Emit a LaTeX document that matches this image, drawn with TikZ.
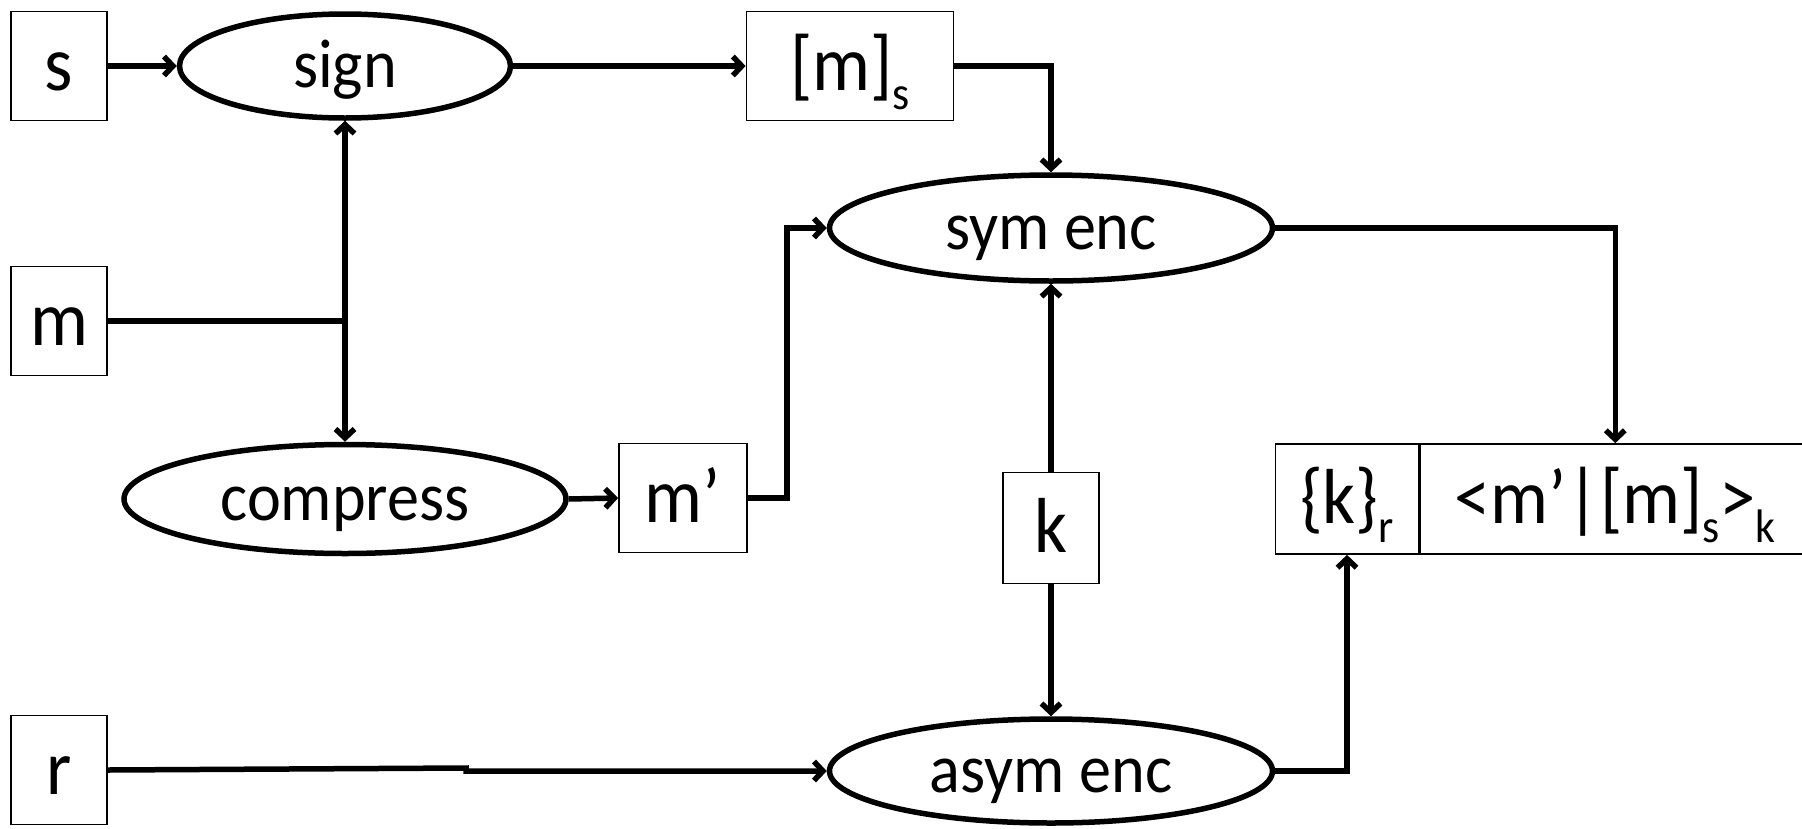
\documentclass[tikz,border=0pt]{standalone}
\usepackage{fontspec}
\setmainfont{Carlito}[FakeStretch=0.93]
\usetikzlibrary{arrows.meta,shapes.geometric}
\newcommand\lowsub[1]{\raisebox{-19pt}{\fontsize{47}{47}\selectfont #1}}
\begin{document}
\begin{tikzpicture}[x=1pt,y=-1pt,
  ell/.style={ellipse,draw,line width=5.5pt,inner sep=0pt,font=\fontsize{69}{69}\selectfont,text height=43pt,text depth=0pt},
  bx/.style={rectangle,draw,line width=1.8pt,inner sep=0pt,minimum height=109pt,font=\fontsize{78}{78}\selectfont,text height=48pt,text depth=0pt},
  conn/.style={line width=5.5pt,-{Straight Barb[length=9pt,width=19pt]}},
  plainline/.style={line width=5.5pt}]
\useasboundingbox (0,0) rectangle (1802,828);
% nodes
\node[bx,minimum width=96pt] (s) at (59,66) {s};
\node[ell,minimum width=331pt,minimum height=104pt] (sign) at (345,66) {sign};
\node[bx,minimum width=96pt] (m) at (59,321) {m};
\node[ell,minimum width=442pt,minimum height=109pt] (compress) at (345,499) {compress};
\node[bx,minimum width=128pt] (mp) at (683,498) {m’};
\node[bx,minimum width=207pt] (ms) at (850,66) {[m]\lowsub{s}};
\node[ell,minimum width=443pt,minimum height=106pt] (sym) at (1051,228) {sym enc};
\node[bx,minimum width=96pt,minimum height=111pt] (k) at (1051,528) {k};
\node[ell,minimum width=443pt,minimum height=104pt] (asym) at (1051,771) {asym enc};
\node[bx,minimum width=96pt] (r) at (59,770) {r};
\node[bx,minimum width=143pt,minimum height=110pt] (kr) at (1347,499) {\{k\}\lowsub{r}};
\node[bx,minimum width=390pt,minimum height=110pt,anchor=west] (ct) at (kr.east) {<m’|[m]\lowsub{s}>\lowsub{k}};
% connectors
\coordinate (j) at (345,321);
\draw[conn] (s.east) -- (sign.west);
\draw[plainline] (m.east) -- (j);
\draw[conn] (j) -- (sign.south);
\draw[conn] (j) -- (compress.north);
\draw[conn] (sign.east) -- (ms.west);
\draw[conn] (ms.east) -| (sym.north);
\draw[conn] (compress.east) -- (mp.west);
\draw[conn] (mp.east) -- (787,498) |- (sym.west);
\draw[conn] (k.north) -- (sym.south);
\draw[conn] (k.south) -- (asym.north);
\draw[conn] (r.east) -- (466,768) -- (466,771) -- (asym.west);
\draw[conn] (asym.east) -| (kr.south);
\draw[conn] (sym.east) -| (ct.north);
\end{tikzpicture}
\end{document}
